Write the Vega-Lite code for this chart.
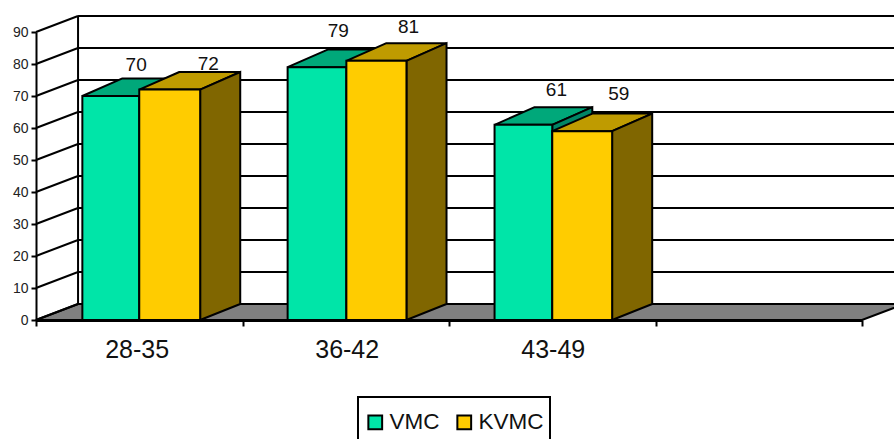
{
  "$schema": "https://vega.github.io/schema/vega-lite/v6.json",
  "width": 826,
  "height": 288,
  "autosize": {"type": "none"},
  "padding": {"left": 36, "top": 32, "right": 32, "bottom": 119},
  "background": "white",
  "config": {
    "font": "Liberation Sans",
    "view": {"stroke": null},
    "legend": {"strokeColor": "black", "strokeWidth": 2}
  },
  "datasets": {
    "floor": [
      {"y": 0, "x": 0, "x2": 4},
      {"y": 5, "x": 0.2036, "x2": 4.2036}
    ],
    "wall": [
      {"x": 0, "x2": 0.2036, "y": 0, "y2": 5},
      {"x": 0, "x2": 0.2036, "y": 10, "y2": 15},
      {"x": 0, "x2": 0.2036, "y": 20, "y2": 25},
      {"x": 0, "x2": 0.2036, "y": 30, "y2": 35},
      {"x": 0, "x2": 0.2036, "y": 40, "y2": 45},
      {"x": 0, "x2": 0.2036, "y": 50, "y2": 55},
      {"x": 0, "x2": 0.2036, "y": 60, "y2": 65},
      {"x": 0, "x2": 0.2036, "y": 70, "y2": 75},
      {"x": 0, "x2": 0.2036, "y": 80, "y2": 85},
      {"x": 0, "x2": 0.2036, "y": 90, "y2": 95},
      {"x": 0.2036, "x2": 0.2036, "y": 5, "y2": 95},
      {"x": 0.2036, "x2": 4.2036, "y": 5, "y2": 5},
      {"x": 0.2036, "x2": 4.2036, "y": 15, "y2": 15},
      {"x": 0.2036, "x2": 4.2036, "y": 25, "y2": 25},
      {"x": 0.2036, "x2": 4.2036, "y": 35, "y2": 35},
      {"x": 0.2036, "x2": 4.2036, "y": 45, "y2": 45},
      {"x": 0.2036, "x2": 4.2036, "y": 55, "y2": 55},
      {"x": 0.2036, "x2": 4.2036, "y": 65, "y2": 65},
      {"x": 0.2036, "x2": 4.2036, "y": 75, "y2": 75},
      {"x": 0.2036, "x2": 4.2036, "y": 85, "y2": 85},
      {"x": 0.2036, "x2": 4.2036, "y": 95, "y2": 95}
    ],
    "bars": [
      {"age": "28-35", "series": "VMC", "y": 70, "x": 0.2245, "x2": 0.5, "base": 0},
      {"age": "28-35", "series": "KVMC", "y": 72, "x": 0.5, "x2": 0.795, "base": 0},
      {"age": "36-42", "series": "VMC", "y": 79, "x": 1.2185, "x2": 1.503, "base": 0},
      {"age": "36-42", "series": "KVMC", "y": 81, "x": 1.503, "x2": 1.794, "base": 0},
      {"age": "43-49", "series": "VMC", "y": 61, "x": 2.2206, "x2": 2.5, "base": 0},
      {"age": "43-49", "series": "KVMC", "y": 59, "x": 2.5, "x2": 2.79, "base": 0}
    ],
    "tops": [
      {"age": "28-35", "series": "VMC", "y": 70, "x": 0.2245, "x2": 0.5},
      {"age": "28-35", "series": "VMC", "y": 75.5, "x": 0.4185, "x2": 0.694},
      {"age": "28-35", "series": "KVMC", "y": 72, "x": 0.5, "x2": 0.795},
      {"age": "28-35", "series": "KVMC", "y": 77.5, "x": 0.694, "x2": 0.989},
      {"age": "36-42", "series": "VMC", "y": 79, "x": 1.2185, "x2": 1.503},
      {"age": "36-42", "series": "VMC", "y": 84.5, "x": 1.4125, "x2": 1.697},
      {"age": "36-42", "series": "KVMC", "y": 81, "x": 1.503, "x2": 1.794},
      {"age": "36-42", "series": "KVMC", "y": 86.5, "x": 1.697, "x2": 1.988},
      {"age": "43-49", "series": "VMC", "y": 61, "x": 2.2206, "x2": 2.5},
      {"age": "43-49", "series": "VMC", "y": 66.5, "x": 2.4146, "x2": 2.694},
      {"age": "43-49", "series": "KVMC", "y": 59, "x": 2.5, "x2": 2.79},
      {"age": "43-49", "series": "KVMC", "y": 64.5, "x": 2.694, "x2": 2.984}
    ],
    "sides": [
      {"age": "28-35", "series": "VMC", "x": 0.5, "y": 70, "y2": 0},
      {"age": "28-35", "series": "VMC", "x": 0.694, "y": 75.5, "y2": 5},
      {"age": "28-35", "series": "KVMC", "x": 0.795, "y": 72, "y2": 0},
      {"age": "28-35", "series": "KVMC", "x": 0.989, "y": 77.5, "y2": 5},
      {"age": "36-42", "series": "VMC", "x": 1.503, "y": 79, "y2": 0},
      {"age": "36-42", "series": "VMC", "x": 1.697, "y": 84.5, "y2": 5},
      {"age": "36-42", "series": "KVMC", "x": 1.794, "y": 81, "y2": 0},
      {"age": "36-42", "series": "KVMC", "x": 1.988, "y": 86.5, "y2": 5},
      {"age": "43-49", "series": "VMC", "x": 2.5, "y": 61, "y2": 0},
      {"age": "43-49", "series": "VMC", "x": 2.694, "y": 66.5, "y2": 5},
      {"age": "43-49", "series": "KVMC", "x": 2.79, "y": 59, "y2": 0},
      {"age": "43-49", "series": "KVMC", "x": 2.984, "y": 64.5, "y2": 5}
    ],
    "valueLabels": [
      {"text": "70", "x": 0.485, "y": 79.7},
      {"text": "72", "x": 0.834, "y": 80},
      {"text": "79", "x": 1.464, "y": 90.3},
      {"text": "81", "x": 1.804, "y": 91.5},
      {"text": "61", "x": 2.52, "y": 71.9},
      {"text": "59", "x": 2.822, "y": 70.6}
    ],
    "ageLabels": [
      {"text": "28-35", "x": 0.49, "y": -9.5},
      {"text": "36-42", "x": 1.507, "y": -9.5},
      {"text": "43-49", "x": 2.505, "y": -9.5}
    ]
  },
  "encoding": {
    "x": {
      "field": "x", "type": "quantitative",
      "scale": {"domain": [0, 4], "nice": false, "zero": false},
      "axis": {"values": [0, 1, 2, 3, 4], "labels": false, "title": null, "grid": false, "tickSize": 6, "tickWidth": 2, "tickColor": "black", "domainColor": "black", "domainWidth": 3}
    },
    "y": {
      "field": "y", "type": "quantitative",
      "scale": {"domain": [0, 90], "nice": false, "zero": false},
      "axis": {"values": [0, 10, 20, 30, 40, 50, 60, 70, 80, 90], "title": null, "grid": false, "tickSize": 5, "tickWidth": 2, "tickColor": "black", "domainColor": "black", "domainWidth": 2, "labelFontSize": 14, "labelColor": "#222222", "labelPadding": 3, "labelOverlap": false, "labelBound": false, "labelFlush": false}
    }
  },
  "layer": [
    {
      "data": {"name": "floor"},
      "mark": {"type": "area", "orient": "horizontal", "fill": "#808080", "stroke": "black", "strokeWidth": 2},
      "encoding": {"x2": {"field": "x2"}}
    },
    {
      "data": {"name": "wall"},
      "mark": {"type": "rule", "color": "black", "strokeWidth": 2},
      "encoding": {"x2": {"field": "x2"}, "y2": {"field": "y2"}}
    },
    {
      "data": {"name": "tops"},
      "transform": [{"filter": "datum.series === 'VMC'"}],
      "mark": {"type": "area", "orient": "horizontal", "fill": "#00A87A", "stroke": "black", "strokeWidth": 2},
      "encoding": {"detail": {"field": "age"}, "x2": {"field": "x2"}}
    },
    {
      "data": {"name": "sides"},
      "transform": [{"filter": "datum.series === 'VMC'"}],
      "mark": {"type": "area", "orient": "vertical", "fill": "#008566", "stroke": "black", "strokeWidth": 2},
      "encoding": {"detail": {"field": "age"}, "y2": {"field": "y2"}}
    },
    {
      "data": {"name": "bars"},
      "transform": [{"filter": "datum.series === 'VMC'"}],
      "mark": {"type": "rect", "stroke": "black", "strokeWidth": 2},
      "encoding": {
        "x2": {"field": "x2"},
        "y2": {"field": "base"},
        "fill": {
          "field": "series", "type": "nominal",
          "scale": {"domain": ["VMC", "KVMC"], "range": ["#00E5A8", "#FFCC00"]},
          "legend": {
            "title": " ", "titleFontSize": 8, "titlePadding": 0, "orient": "none", "legendX": 322, "legendY": 365, "direction": "horizontal", "columns": 2,
            "symbolType": "square", "symbolSize": 190, "symbolStrokeColor": "black", "symbolStrokeWidth": 2,
            "labelFontSize": 22.5, "labelColor": "#111111", "labelOffset": 3, "columnPadding": 13, "padding": 6
          }
        }
      }
    },
    {
      "data": {"name": "tops"},
      "transform": [{"filter": "datum.series === 'KVMC'"}],
      "mark": {"type": "area", "orient": "horizontal", "fill": "#BF9B00", "stroke": "black", "strokeWidth": 2},
      "encoding": {"detail": {"field": "age"}, "x2": {"field": "x2"}}
    },
    {
      "data": {"name": "sides"},
      "transform": [{"filter": "datum.series === 'KVMC'"}],
      "mark": {"type": "area", "orient": "vertical", "fill": "#806600", "stroke": "black", "strokeWidth": 2},
      "encoding": {"detail": {"field": "age"}, "y2": {"field": "y2"}}
    },
    {
      "data": {"name": "bars"},
      "transform": [{"filter": "datum.series === 'KVMC'"}],
      "mark": {"type": "rect", "stroke": "black", "strokeWidth": 2},
      "encoding": {
        "x2": {"field": "x2"},
        "y2": {"field": "base"},
        "fill": {"field": "series", "type": "nominal"}
      }
    },
    {
      "data": {"name": "valueLabels"},
      "mark": {"type": "text", "fontSize": 19, "color": "#111111", "baseline": "middle", "align": "center"},
      "encoding": {"text": {"field": "text"}}
    },
    {
      "data": {"name": "ageLabels"},
      "mark": {"type": "text", "fontSize": 25, "color": "#111111", "baseline": "middle", "align": "center"},
      "encoding": {"text": {"field": "text"}}
    }
  ]
}
